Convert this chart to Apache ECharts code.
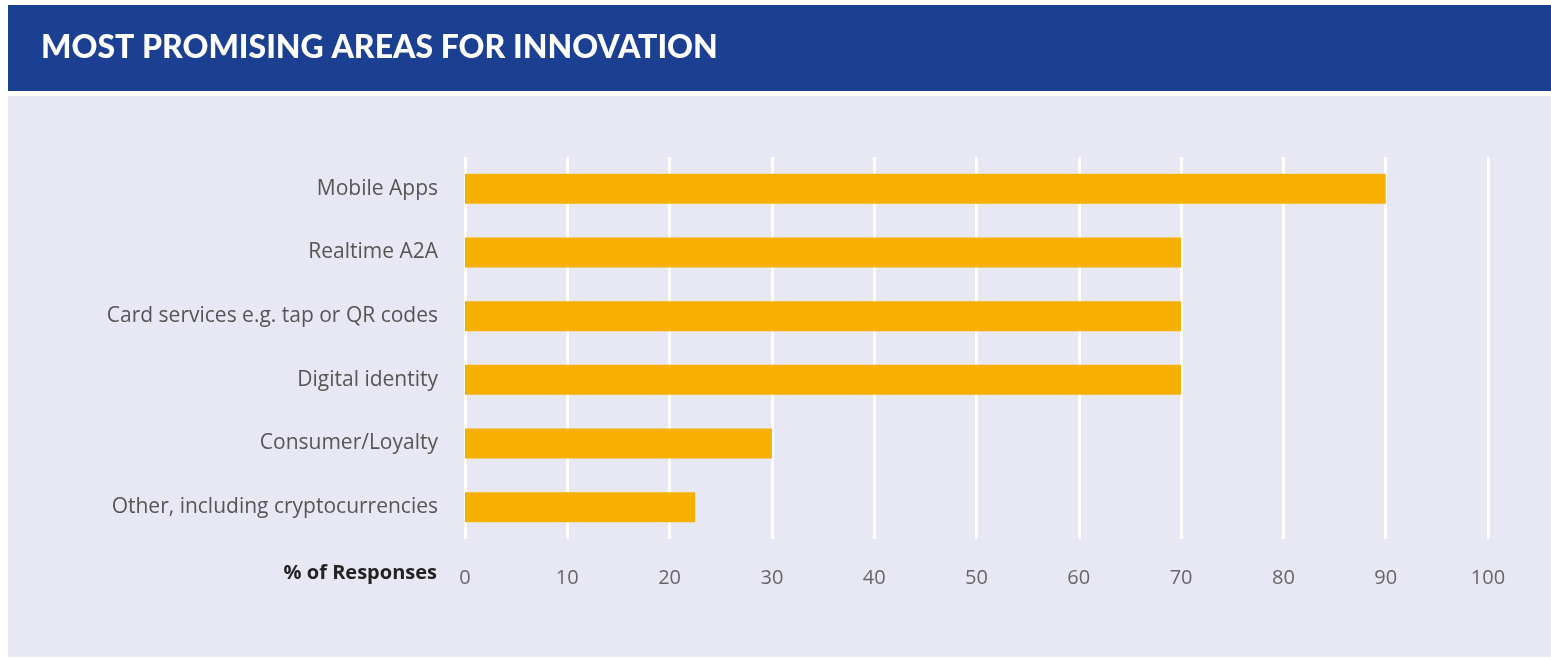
<!DOCTYPE html>
<html>
<head>
<meta charset="utf-8">
<script src="https://cdn.jsdelivr.net/npm/echarts@6/dist/echarts.min.js"></script>
<style>
  html, body { margin: 0; padding: 0; background: #ffffff; }
  #chart { width: 1551px; height: 660px; }
</style>
</head>
<body>
<div id="chart"></div>
<script>
// Survey categories, listed top to bottom
const categories = [
  'Mobile Apps',
  'Realtime A2A',
  'Card services e.g. tap or QR codes',
  'Digital identity',
  'Consumer/Loyalty',
  'Other, including cryptocurrencies'
];
// Share of responses (%)
const responses = [90, 70, 70, 70, 30, 22.5];
const chartTitle = 'MOST PROMISING AREAS FOR INNOVATION';
const axisTitle = '% of Responses';

const chart = echarts.init(document.getElementById('chart'), null, { renderer: 'canvas' });

chart.setOption({
  backgroundColor: '#ffffff',
  animation: false,
  graphic: [
    { type: 'rect', z: -10, silent: true,
      shape: { x: 8, y: 5, width: 1543, height: 86 },
      style: { fill: '#1b3f91' } },
    { type: 'rect', z: -10, silent: true,
      shape: { x: 8, y: 96, width: 1543, height: 561 },
      style: { fill: '#e8e8f4' } }
  ],
  title: {
    text: chartTitle,
    left: 36,
    top: 27,
    textStyle: {
      color: '#ffffff',
      fontFamily: 'Lato',
      fontWeight: 900,
      fontSize: 32
    }
  },
  grid: { left: 465, right: 63, top: 157, bottom: 121, containLabel: false },
  xAxis: {
    type: 'value',
    min: 0,
    max: 100,
    interval: 10,
    name: axisTitle,
    nameLocation: 'start',
    nameGap: 28,
    nameTextStyle: {
      color: '#222',
      fontFamily: 'Open Sans',
      fontWeight: 'bold',
      fontSize: 20,
      align: 'right',
      verticalAlign: 'top',
      lineHeight: 24,
      padding: [22, 0, 0, 0]
    },
    axisLine: { show: false },
    axisTick: { show: false },
    axisLabel: {
      margin: 29,
      color: '#666',
      fontFamily: 'Open Sans',
      fontSize: 20
    },
    splitLine: { show: true, lineStyle: { color: '#ffffff', width: 3 } }
  },
  yAxis: {
    type: 'category',
    data: categories,
    inverse: true,
    axisLine: { show: false },
    axisTick: { show: false },
    axisLabel: {
      margin: 27,
      color: '#555',
      fontFamily: 'Open Sans',
      fontSize: 21
    },
    splitLine: { show: false }
  },
  series: [{
    type: 'bar',
    data: responses,
    barWidth: 30,
    itemStyle: { color: '#f8b000' }
  }]
});
</script>
</body>
</html>
